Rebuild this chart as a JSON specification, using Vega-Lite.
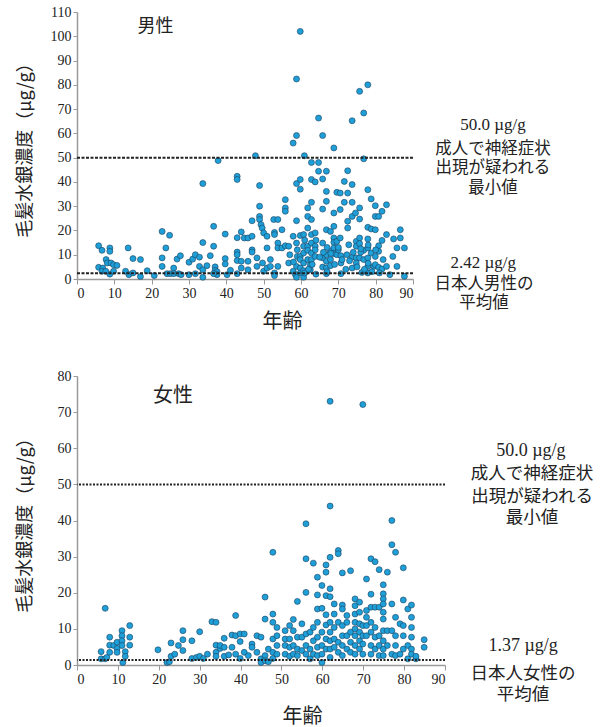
{
  "$schema": "https://vega.github.io/schema/vega-lite/v6.json",
  "padding": {"left": 15, "top": 5, "right": 5, "bottom": 5},
  "background": "white",
  "spacing": 38,
  "config": {
    "font": "Noto Sans CJK JP",
    "view": {"stroke": null},
    "text": {"color": "#222", "align": "center", "baseline": "middle"},
    "axis": {
      "grid": false,
      "labelFont": "Liberation Serif",
      "labelFontSize": 14,
      "labelColor": "#222",
      "labelOverlap": false,
      "titleFont": "Noto Sans CJK JP",
      "titleFontWeight": "normal",
      "titleColor": "#222",
      "domainColor": "#9a9a9a",
      "domainWidth": 1.5,
      "tickColor": "#9a9a9a",
      "tickSize": 5
    }
  },
  "datasets": {
    "one": [{}],
    "male": [
      {"age":5.8,"hg":13.7},{"age":6.7,"hg":11.8},{"age":5.8,"hg":4.8},{"age":6.9,"hg":4.5},{"age":6.7,"hg":3.2},{"age":7.8,"hg":8.0},{"age":8.8,"hg":12.8},{"age":8.8,"hg":11.4},{"age":8.1,"hg":6.6},{"age":9.1,"hg":6.6},{"age":9.8,"hg":5.9},{"age":10.7,"hg":5.6},{"age":8.8,"hg":2.0},{"age":7.7,"hg":3.2},{"age":9.8,"hg":3.2},{"age":13.0,"hg":3.2},{"age":13.7,"hg":12.8},{"age":15.0,"hg":8.4},{"age":13.9,"hg":1.8},{"age":15.0,"hg":2.5},{"age":17.0,"hg":8.0},{"age":17.0,"hg":1.0},{"age":18.8,"hg":3.4},{"age":20.7,"hg":1.4},{"age":22.8,"hg":19.6},{"age":22.8,"hg":8.7},{"age":22.8,"hg":5.2},{"age":23.8,"hg":12.8},{"age":24.8,"hg":18.0},{"age":24.1,"hg":2.2},{"age":25.0,"hg":2.2},{"age":25.9,"hg":4.5},{"age":25.9,"hg":2.2},{"age":26.8,"hg":8.2},{"age":27.7,"hg":9.6},{"age":27.2,"hg":2.2},{"age":27.9,"hg":1.8},{"age":30.0,"hg":1.8},{"age":30.0,"hg":6.9},{"age":31.0,"hg":8.2},{"age":31.7,"hg":10.0},{"age":31.7,"hg":2.2},{"age":32.8,"hg":9.0},{"age":32.8,"hg":5.2},{"age":33.7,"hg":3.8},{"age":33.7,"hg":39.3},{"age":33.7,"hg":15.0},{"age":33.7,"hg":0.7},{"age":35.7,"hg":9.6},{"age":34.8,"hg":5.5},{"age":36.6,"hg":21.7},{"age":36.6,"hg":13.5},{"age":37.0,"hg":5.0},{"age":37.0,"hg":3.6},{"age":37.5,"hg":3.0},{"age":37.5,"hg":1.8},{"age":36.6,"hg":2.2},{"age":37.8,"hg":48.8},{"age":39.7,"hg":18.5},{"age":39.7,"hg":8.4},{"age":39.7,"hg":6.2},{"age":40.2,"hg":1.8},{"age":41.1,"hg":3.6},{"age":42.9,"hg":42.3},{"age":42.9,"hg":41.0},{"age":42.9,"hg":17.0},{"age":42.9,"hg":11.1},{"age":42.9,"hg":10.0},{"age":42.9,"hg":7.6},{"age":42.9,"hg":2.2},{"age":44.0,"hg":19.4},{"age":44.0,"hg":7.3},{"age":44.0,"hg":4.5},{"age":44.8,"hg":16.9},{"age":45.8,"hg":16.9},{"age":45.8,"hg":7.3},{"age":45.8,"hg":3.8},{"age":46.9,"hg":17.6},{"age":46.9,"hg":24.0},{"age":46.9,"hg":12.0},{"age":46.9,"hg":11.1},{"age":47.8,"hg":50.8},{"age":48.2,"hg":8.7},{"age":48.2,"hg":5.2},{"age":48.9,"hg":38.5},{"age":48.9,"hg":30.0},{"age":48.9,"hg":25.8},{"age":48.9,"hg":24.5},{"age":49.3,"hg":22.4},{"age":49.6,"hg":21.0},{"age":50.0,"hg":19.0},{"age":49.7,"hg":6.6},{"age":50.0,"hg":3.2},{"age":50.9,"hg":17.6},{"age":50.9,"hg":12.8},{"age":50.9,"hg":4.5},{"age":51.8,"hg":8.0},{"age":51.8,"hg":5.2},{"age":52.7,"hg":24.5},{"age":52.9,"hg":19.2},{"age":52.9,"hg":18.3},{"age":52.9,"hg":2.5},{"age":52.9,"hg":1.4},{"age":53.8,"hg":24.5},{"age":53.8,"hg":14.8},{"age":53.8,"hg":12.8},{"age":53.8,"hg":5.2},{"age":54.9,"hg":12.8},{"age":54.9,"hg":20.3},{"age":55.8,"hg":32.7},{"age":55.8,"hg":29.3},{"age":55.8,"hg":27.9},{"age":55.8,"hg":13.7},{"age":56.7,"hg":6.6},{"age":56.7,"hg":13.5},{"age":57.9,"hg":56.0},{"age":57.9,"hg":17.6},{"age":57.9,"hg":3.2},{"age":58.5,"hg":1.8},{"age":58.8,"hg":39.3},{"age":58.8,"hg":59.1},{"age":58.8,"hg":82.4},{"age":58.8,"hg":24.0},{"age":58.8,"hg":14.8},{"age":59.0,"hg":9.3},{"age":58.8,"hg":5.2},{"age":58.8,"hg":0.7},{"age":59.8,"hg":102.0},{"age":59.8,"hg":41.0},{"age":59.8,"hg":37.0},{"age":59.8,"hg":17.9},{"age":59.8,"hg":9.3},{"age":59.8,"hg":8.0},{"age":59.8,"hg":4.5},{"age":59.8,"hg":2.5},{"age":60.7,"hg":18.3},{"age":60.7,"hg":13.5},{"age":60.7,"hg":10.7},{"age":60.7,"hg":6.6},{"age":60.7,"hg":3.4},{"age":60.7,"hg":0.7},{"age":60.9,"hg":50.8},{"age":61.8,"hg":29.3},{"age":61.8,"hg":25.8},{"age":61.8,"hg":21.0},{"age":61.8,"hg":13.5},{"age":61.8,"hg":11.8},{"age":61.8,"hg":8.0},{"age":62.5,"hg":5.9},{"age":62.5,"hg":3.8},{"age":62.8,"hg":41.0},{"age":62.8,"hg":48.0},{"age":62.8,"hg":31.6},{"age":62.8,"hg":24.5},{"age":62.8,"hg":18.3},{"age":62.8,"hg":14.8},{"age":62.8,"hg":10.7},{"age":62.8,"hg":8.0},{"age":63.8,"hg":40.0},{"age":63.8,"hg":19.0},{"age":63.8,"hg":13.5},{"age":63.8,"hg":12.0},{"age":63.8,"hg":9.3},{"age":64.7,"hg":48.0},{"age":64.7,"hg":44.4},{"age":64.7,"hg":66.3},{"age":65.8,"hg":59.1},{"age":65.8,"hg":41.2},{"age":65.8,"hg":28.8},{"age":65.8,"hg":14.8},{"age":65.8,"hg":8.7},{"age":65.8,"hg":4.9},{"age":66.8,"hg":44.4},{"age":66.8,"hg":36.1},{"age":66.8,"hg":32.0},{"age":66.8,"hg":20.3},{"age":66.8,"hg":10.0},{"age":66.8,"hg":7.3},{"age":66.8,"hg":4.5},{"age":66.8,"hg":2.2},{"age":67.9,"hg":19.6},{"age":67.9,"hg":11.4},{"age":67.9,"hg":8.0},{"age":67.9,"hg":5.5},{"age":68.8,"hg":54.0},{"age":68.8,"hg":27.2},{"age":68.8,"hg":21.7},{"age":68.8,"hg":16.9},{"age":68.8,"hg":15.1},{"age":68.8,"hg":12.8},{"age":68.8,"hg":10.4},{"age":69.6,"hg":35.7},{"age":69.6,"hg":15.5},{"age":69.6,"hg":10.0},{"age":70.5,"hg":35.4},{"age":70.5,"hg":28.6},{"age":70.5,"hg":16.9},{"age":70.7,"hg":9.6},{"age":70.7,"hg":6.6},{"age":70.7,"hg":2.2},{"age":71.6,"hg":40.2},{"age":71.6,"hg":31.6},{"age":72.3,"hg":10.0},{"age":72.5,"hg":44.6},{"age":72.5,"hg":35.4},{"age":72.5,"hg":23.8},{"age":72.5,"hg":21.0},{"age":72.8,"hg":14.1},{"age":73.7,"hg":65.2},{"age":73.7,"hg":38.9},{"age":73.7,"hg":31.6},{"age":73.7,"hg":25.8},{"age":73.7,"hg":9.0},{"age":73.7,"hg":4.5},{"age":74.6,"hg":27.2},{"age":74.8,"hg":15.5},{"age":74.8,"hg":13.5},{"age":74.8,"hg":8.7},{"age":74.8,"hg":6.6},{"age":75.7,"hg":77.3},{"age":75.7,"hg":29.3},{"age":75.7,"hg":24.7},{"age":75.7,"hg":16.9},{"age":75.7,"hg":14.6},{"age":75.7,"hg":8.7},{"age":76.3,"hg":2.7},{"age":76.8,"hg":68.4},{"age":76.8,"hg":49.5},{"age":76.8,"hg":11.8},{"age":76.8,"hg":8.0},{"age":77.9,"hg":80.0},{"age":77.9,"hg":36.8},{"age":77.9,"hg":21.3},{"age":77.9,"hg":16.5},{"age":77.9,"hg":12.8},{"age":77.9,"hg":8.7},{"age":77.9,"hg":5.2},{"age":77.9,"hg":2.5},{"age":78.8,"hg":33.0},{"age":78.8,"hg":20.6},{"age":78.8,"hg":10.7},{"age":79.5,"hg":5.2},{"age":79.9,"hg":30.2},{"age":79.9,"hg":25.8},{"age":79.9,"hg":20.3},{"age":79.9,"hg":9.3},{"age":79.9,"hg":5.9},{"age":80.8,"hg":25.8},{"age":80.8,"hg":13.7},{"age":80.8,"hg":11.4},{"age":80.8,"hg":4.8},{"age":81.7,"hg":27.9},{"age":81.7,"hg":15.9},{"age":81.7,"hg":4.1},{"age":82.9,"hg":30.6},{"age":82.9,"hg":18.3},{"age":82.9,"hg":5.2},{"age":83.8,"hg":1.8},{"age":84.6,"hg":9.3},{"age":84.8,"hg":16.5},{"age":85.7,"hg":12.8},{"age":85.7,"hg":5.2},{"age":86.6,"hg":20.3},{"age":86.6,"hg":16.9},{"age":87.7,"hg":12.8},{"age":87.7,"hg":1.1},
      {"age":57,"hg":10},{"age":58,"hg":7},{"age":61,"hg":2.5},{"age":62,"hg":4},{"age":63,"hg":6},{"age":64,"hg":2},{"age":65,"hg":9},{"age":66,"hg":11},{"age":67,"hg":3},{"age":68,"hg":10.5},{"age":69,"hg":6},{"age":70,"hg":12},{"age":71,"hg":8},{"age":72,"hg":4},{"age":73,"hg":7.5},{"age":74,"hg":11},{"age":75,"hg":5},{"age":76,"hg":11},{"age":77,"hg":4},{"age":78,"hg":6.5},{"age":79,"hg":3},{"age":80,"hg":12},{"age":81,"hg":2.5},{"age":82,"hg":8},{"age":64,"hg":16},{"age":67,"hg":13},{"age":70,"hg":13},{"age":76,"hg":12.5},{"age":78,"hg":14},{"age":61,"hg":16},{"age":59,"hg":12}
    ],
    "female": [
      {"age":5.9,"hg":3.7},{"age":5.9,"hg":1.7},{"age":6.9,"hg":15.7},{"age":6.9,"hg":1.7},{"age":7.3,"hg":2.1},{"age":8.0,"hg":7.7},{"age":8.0,"hg":5.5},{"age":8.0,"hg":3.5},{"age":9.0,"hg":5.4},{"age":9.8,"hg":6.3},{"age":9.8,"hg":4.6},{"age":9.8,"hg":3.5},{"age":11.0,"hg":9.5},{"age":11.0,"hg":8.1},{"age":11.0,"hg":6.7},{"age":11.0,"hg":5.4},{"age":11.2,"hg":0.7},{"age":11.8,"hg":3.7},{"age":11.8,"hg":2.4},{"age":12.9,"hg":10.9},{"age":12.9,"hg":7.7},{"age":12.9,"hg":5.5},
      {"age":19.8,"hg":4.2},{"age":22.0,"hg":0.7},{"age":22.6,"hg":0.9},{"age":23.0,"hg":6.1},{"age":23.0,"hg":2.4},{"age":23.9,"hg":3.0},{"age":24.8,"hg":5.4},{"age":25.9,"hg":9.5},{"age":25.9,"hg":7.0},{"age":25.9,"hg":4.0},{"age":28.1,"hg":6.7},{"age":28.1,"hg":1.8},{"age":29.2,"hg":2.1},{"age":30.0,"hg":9.2},{"age":30.0,"hg":2.4},{"age":30.9,"hg":1.8},{"age":31.9,"hg":3.0},{"age":33.0,"hg":12.0},{"age":34.0,"hg":11.8},{"age":34.0,"hg":5.5},{"age":34.0,"hg":3.5},{"age":34.0,"hg":2.4},{"age":35.0,"hg":4.6},{"age":35.0,"hg":5.4},{"age":36.0,"hg":7.4},{"age":36.0,"hg":4.9},{"age":36.0,"hg":2.4},{"age":37.1,"hg":2.8},{"age":37.9,"hg":8.3},{"age":37.9,"hg":4.9},{"age":38.8,"hg":13.7},{"age":38.8,"hg":8.1},{"age":38.8,"hg":3.0},{"age":39.9,"hg":8.6},{"age":39.9,"hg":6.5},{"age":39.9,"hg":1.8},{"age":40.9,"hg":8.6},{"age":40.9,"hg":3.5},{"age":41.9,"hg":2.6},{"age":42.8,"hg":5.8},{"age":42.8,"hg":4.9},{"age":44.0,"hg":8.1},{"age":44.0,"hg":3.5},{"age":45.0,"hg":7.7},{"age":45.0,"hg":1.7},{"age":45.0,"hg":0.7},{"age":46.0,"hg":18.8},{"age":46.0,"hg":12.7},{"age":46.0,"hg":2.6},{"age":46.0,"hg":1.2},{"age":46.8,"hg":4.4},{"age":46.8,"hg":0.9},{"age":47.9,"hg":31.2},{"age":47.9,"hg":14.1},{"age":47.9,"hg":11.8},{"age":47.9,"hg":7.2},{"age":47.9,"hg":3.5},{"age":47.9,"hg":1.8},{"age":48.9,"hg":10.4},{"age":48.9,"hg":8.1},{"age":48.9,"hg":5.4},{"age":48.9,"hg":3.0},{"age":50.9,"hg":9.5},{"age":50.9,"hg":7.2},{"age":50.9,"hg":5.4},{"age":50.9,"hg":3.0},{"age":52.0,"hg":10.9},{"age":52.0,"hg":7.2},{"age":52.0,"hg":4.9},{"age":52.0,"hg":2.4},{"age":52.9,"hg":12.6},{"age":52.9,"hg":9.5},{"age":52.9,"hg":5.4},{"age":52.9,"hg":3.0},{"age":53.9,"hg":17.6},{"age":53.9,"hg":7.7},{"age":53.9,"hg":4.4},{"age":53.9,"hg":2.6},{"age":55.0,"hg":11.4},{"age":55.0,"hg":7.7},{"age":55.0,"hg":4.0},{"age":56.0,"hg":39.1},{"age":56.0,"hg":29.4},{"age":56.0,"hg":20.1},{"age":56.0,"hg":8.6},{"age":56.0,"hg":5.4},{"age":56.0,"hg":3.0},{"age":57.0,"hg":9.1},{"age":57.0,"hg":4.4},{"age":57.0,"hg":1.7},{"age":57.8,"hg":28.2},{"age":57.8,"hg":10.4},{"age":57.8,"hg":6.7},{"age":57.8,"hg":3.0},{"age":58.8,"hg":24.3},{"age":58.8,"hg":19.4},{"age":58.8,"hg":15.5},{"age":58.8,"hg":11.8},{"age":58.8,"hg":7.7},{"age":58.8,"hg":4.9},{"age":58.8,"hg":2.6},{"age":59.9,"hg":22.0},{"age":59.9,"hg":15.7},{"age":59.9,"hg":9.1},{"age":59.9,"hg":0.7},{"age":59.9,"hg":5.4},{"age":59.9,"hg":3.0},{"age":60.9,"hg":27.7},{"age":60.9,"hg":25.7},{"age":60.9,"hg":19.2},{"age":60.9,"hg":13.9},{"age":60.9,"hg":11.1},{"age":60.9,"hg":7.2},{"age":60.9,"hg":4.4},{"age":61.9,"hg":73.0},{"age":61.9,"hg":44.0},{"age":61.9,"hg":29.8},{"age":61.9,"hg":21.1},{"age":61.9,"hg":18.9},{"age":61.9,"hg":11.8},{"age":61.9,"hg":9.1},{"age":61.9,"hg":6.7},{"age":61.9,"hg":4.4},{"age":61.9,"hg":2.1},{"age":62.9,"hg":16.9},{"age":62.9,"hg":14.1},{"age":62.9,"hg":10.4},{"age":62.9,"hg":7.2},{"age":62.9,"hg":4.9},{"age":63.9,"hg":31.7},{"age":63.9,"hg":30.8},{"age":63.9,"hg":11.8},{"age":63.9,"hg":6.3},{"age":63.9,"hg":3.5},{"age":64.9,"hg":25.5},{"age":64.9,"hg":16.6},{"age":64.9,"hg":15.5},{"age":64.9,"hg":10.9},{"age":64.9,"hg":8.1},{"age":64.9,"hg":5.4},{"age":64.9,"hg":2.6},{"age":66.0,"hg":13.7},{"age":66.0,"hg":11.8},{"age":66.0,"hg":8.1},{"age":66.0,"hg":4.4},{"age":66.9,"hg":26.1},{"age":66.9,"hg":9.1},{"age":66.9,"hg":6.3},{"age":66.9,"hg":3.5},{"age":68.0,"hg":18.3},{"age":68.0,"hg":16.4},{"age":68.0,"hg":14.1},{"age":68.0,"hg":11.8},{"age":68.0,"hg":10.0},{"age":68.0,"hg":8.1},{"age":68.0,"hg":5.4},{"age":68.0,"hg":3.0},{"age":69.1,"hg":17.4},{"age":69.1,"hg":14.6},{"age":69.1,"hg":11.4},{"age":69.1,"hg":9.1},{"age":69.1,"hg":6.7},{"age":69.1,"hg":4.4},{"age":69.9,"hg":72.1},{"age":69.9,"hg":10.9},{"age":69.9,"hg":8.1},{"age":69.9,"hg":5.8},{"age":69.9,"hg":3.0},{"age":70.8,"hg":23.8},{"age":70.8,"hg":15.1},{"age":70.8,"hg":13.2},{"age":70.8,"hg":10.9},{"age":70.8,"hg":8.1},{"age":71.9,"hg":29.4},{"age":71.9,"hg":19.6},{"age":71.9,"hg":16.0},{"age":71.9,"hg":11.8},{"age":71.9,"hg":9.1},{"age":71.9,"hg":5.4},{"age":71.9,"hg":3.0},{"age":72.9,"hg":28.6},{"age":72.9,"hg":16.0},{"age":72.9,"hg":10.4},{"age":72.9,"hg":7.7},{"age":72.9,"hg":4.4},{"age":73.9,"hg":26.4},{"age":73.9,"hg":16.0},{"age":73.9,"hg":8.1},{"age":73.9,"hg":5.4},{"age":73.9,"hg":2.6},{"age":74.9,"hg":22.2},{"age":74.9,"hg":19.7},{"age":74.9,"hg":18.3},{"age":74.9,"hg":16.9},{"age":74.9,"hg":14.6},{"age":74.9,"hg":12.7},{"age":74.9,"hg":9.5},{"age":74.9,"hg":6.7},{"age":74.9,"hg":4.4},{"age":74.9,"hg":2.6},{"age":75.9,"hg":25.7},{"age":75.9,"hg":9.5},{"age":75.9,"hg":5.4},{"age":77.0,"hg":40.0},{"age":77.0,"hg":33.3},{"age":77.0,"hg":16.9},{"age":77.0,"hg":9.5},{"age":77.0,"hg":3.0},{"age":77.9,"hg":31.2},{"age":77.9,"hg":13.2},{"age":77.9,"hg":8.1},{"age":77.9,"hg":5.4},{"age":77.9,"hg":2.6},{"age":79.0,"hg":11.4},{"age":79.0,"hg":3.0},{"age":79.8,"hg":26.9},{"age":79.8,"hg":18.0},{"age":79.8,"hg":10.9},{"age":79.8,"hg":8.1},{"age":79.8,"hg":4.4},{"age":80.9,"hg":15.5},{"age":80.9,"hg":5.4},{"age":80.9,"hg":1.7},{"age":81.8,"hg":16.6},{"age":81.8,"hg":13.2},{"age":81.8,"hg":10.4},{"age":81.8,"hg":7.7},{"age":81.8,"hg":4.4},{"age":81.8,"hg":3.0},{"age":82.9,"hg":1.7},{"age":82.9,"hg":2.4},{"age":84.9,"hg":7.0},{"age":84.9,"hg":4.9}
    ]
  },
  "vconcat": [
    {
      "width": 336,
      "height": 267,
      "layer": [
        {
          "data": {"name": "male"},
          "mark": {"type": "point", "filled": true, "fill": "#1f9fd8", "stroke": "#1b3f5c", "strokeWidth": 0.6, "opacity": 1, "size": 36},
          "encoding": {
            "x": {"field": "age", "type": "quantitative", "scale": {"domain": [0, 90], "nice": false},
                  "axis": {"values": [0,10,20,30,40,50,60,70,80,90], "labelOverlap": false, "title": "年齢", "titleFontSize": 20, "titleX": 205, "titlePadding": 11}},
            "y": {"field": "hg", "type": "quantitative", "scale": {"domain": [0, 110], "nice": false},
                  "axis": {"values": [0,10,20,30,40,50,60,70,80,90,100,110], "labelOverlap": false, "title": "毛髪水銀濃度（µg/g）", "titleFontSize": 18, "titleX": -43, "tickSize": 4}}
          }
        },
        {"data": {"name": "one"}, "mark": {"type": "rule", "color": "#222", "strokeWidth": 2, "strokeDash": [3, 1.5]},
         "encoding": {"y": {"datum": 50, "type": "quantitative", "axis": {"values": [0,10,20,30,40,50,60,70,80,90,100,110], "labelOverlap": false, "title": "毛髪水銀濃度（µg/g）", "titleFontSize": 18, "titleX": -43, "tickSize": 4}}}},
        {"data": {"name": "one"}, "mark": {"type": "rule", "color": "#222", "strokeWidth": 2, "strokeDash": [3, 1.5]},
         "encoding": {"y": {"datum": 2.42, "type": "quantitative", "axis": {"values": [0,10,20,30,40,50,60,70,80,90,100,110], "labelOverlap": false, "title": "毛髪水銀濃度（µg/g）", "titleFontSize": 18, "titleX": -43, "tickSize": 4}}}},
        {"data": {"name": "one"}, "mark": {"type": "text", "fontSize": 18},
         "encoding": {
           "x": {"datum": 21, "type": "quantitative", "axis": {"values": [0,10,20,30,40,50,60,70,80,90], "labelOverlap": false, "title": "年齢", "titleFontSize": 20, "titleX": 205, "titlePadding": 11}},
           "y": {"datum": 103.8, "type": "quantitative", "axis": {"values": [0,10,20,30,40,50,60,70,80,90,100,110], "labelOverlap": false, "title": "毛髪水銀濃度（µg/g）", "titleFontSize": 18, "titleX": -43, "tickSize": 4}},
           "text": {"value": "男性"}}},
        {"data": {"name": "one"}, "mark": {"type": "text", "font": "Liberation Serif", "fontSize": 17},
         "encoding": {
           "x": {"datum": 111.4, "type": "quantitative", "axis": {"values": [0,10,20,30,40,50,60,70,80,90], "labelOverlap": false, "title": "年齢", "titleFontSize": 20, "titleX": 205, "titlePadding": 11}},
           "y": {"datum": 63.5, "type": "quantitative", "axis": {"values": [0,10,20,30,40,50,60,70,80,90,100,110], "labelOverlap": false, "title": "毛髪水銀濃度（µg/g）", "titleFontSize": 18, "titleX": -43, "tickSize": 4}},
           "text": {"value": "50.0 µg/g"}}},
        {"data": {"name": "one"}, "mark": {"type": "text", "fontSize": 16.5},
         "encoding": {
           "x": {"datum": 111.4, "type": "quantitative", "axis": {"values": [0,10,20,30,40,50,60,70,80,90], "labelOverlap": false, "title": "年齢", "titleFontSize": 20, "titleX": 205, "titlePadding": 11}},
           "y": {"datum": 53.6, "type": "quantitative", "axis": {"values": [0,10,20,30,40,50,60,70,80,90,100,110], "labelOverlap": false, "title": "毛髪水銀濃度（µg/g）", "titleFontSize": 18, "titleX": -43, "tickSize": 4}},
           "text": {"value": "成人で神経症状"}}},
        {"data": {"name": "one"}, "mark": {"type": "text", "fontSize": 16.5},
         "encoding": {
           "x": {"datum": 111.4, "type": "quantitative", "axis": {"values": [0,10,20,30,40,50,60,70,80,90], "labelOverlap": false, "title": "年齢", "titleFontSize": 20, "titleX": 205, "titlePadding": 11}},
           "y": {"datum": 45.6, "type": "quantitative", "axis": {"values": [0,10,20,30,40,50,60,70,80,90,100,110], "labelOverlap": false, "title": "毛髪水銀濃度（µg/g）", "titleFontSize": 18, "titleX": -43, "tickSize": 4}},
           "text": {"value": "出現が疑われる"}}},
        {"data": {"name": "one"}, "mark": {"type": "text", "fontSize": 16.5},
         "encoding": {
           "x": {"datum": 111.4, "type": "quantitative", "axis": {"values": [0,10,20,30,40,50,60,70,80,90], "labelOverlap": false, "title": "年齢", "titleFontSize": 20, "titleX": 205, "titlePadding": 11}},
           "y": {"datum": 37.5, "type": "quantitative", "axis": {"values": [0,10,20,30,40,50,60,70,80,90,100,110], "labelOverlap": false, "title": "毛髪水銀濃度（µg/g）", "titleFontSize": 18, "titleX": -43, "tickSize": 4}},
           "text": {"value": "最小値"}}},
        {"data": {"name": "one"}, "mark": {"type": "text", "font": "Liberation Serif", "fontSize": 17},
         "encoding": {
           "x": {"datum": 108.8, "type": "quantitative", "axis": {"values": [0,10,20,30,40,50,60,70,80,90], "labelOverlap": false, "title": "年齢", "titleFontSize": 20, "titleX": 205, "titlePadding": 11}},
           "y": {"datum": 6.6, "type": "quantitative", "axis": {"values": [0,10,20,30,40,50,60,70,80,90,100,110], "labelOverlap": false, "title": "毛髪水銀濃度（µg/g）", "titleFontSize": 18, "titleX": -43, "tickSize": 4}},
           "text": {"value": "2.42 µg/g"}}},
        {"data": {"name": "one"}, "mark": {"type": "text", "fontSize": 16.5},
         "encoding": {
           "x": {"datum": 109, "type": "quantitative", "axis": {"values": [0,10,20,30,40,50,60,70,80,90], "labelOverlap": false, "title": "年齢", "titleFontSize": 20, "titleX": 205, "titlePadding": 11}},
           "y": {"datum": -2.1, "type": "quantitative", "axis": {"values": [0,10,20,30,40,50,60,70,80,90,100,110], "labelOverlap": false, "title": "毛髪水銀濃度（µg/g）", "titleFontSize": 18, "titleX": -43, "tickSize": 4}},
           "text": {"value": "日本人男性の"}}},
        {"data": {"name": "one"}, "mark": {"type": "text", "fontSize": 16.5},
         "encoding": {
           "x": {"datum": 109, "type": "quantitative", "axis": {"values": [0,10,20,30,40,50,60,70,80,90], "labelOverlap": false, "title": "年齢", "titleFontSize": 20, "titleX": 205, "titlePadding": 11}},
           "y": {"datum": -9.9, "type": "quantitative", "axis": {"values": [0,10,20,30,40,50,60,70,80,90,100,110], "labelOverlap": false, "title": "毛髪水銀濃度（µg/g）", "titleFontSize": 18, "titleX": -43, "tickSize": 4}},
           "text": {"value": "平均値"}}}
      ]
    },
    {
      "width": 368,
      "height": 289,
      "layer": [
        {
          "data": {"name": "female"},
          "mark": {"type": "point", "filled": true, "fill": "#1f9fd8", "stroke": "#1b3f5c", "strokeWidth": 0.6, "opacity": 1, "size": 36},
          "encoding": {
            "x": {"field": "age", "type": "quantitative", "scale": {"domain": [0, 90], "nice": false},
                  "axis": {"values": [0,10,20,30,40,50,60,70,80,90], "labelOverlap": false, "title": "年齢", "titleFontSize": 20, "titleX": 225, "titlePadding": 20}},
            "y": {"field": "hg", "type": "quantitative", "scale": {"domain": [0, 80], "nice": false},
                  "axis": {"values": [0,10,20,30,40,50,60,70,80], "labelOverlap": false, "title": "毛髪水銀濃度（µg/g）", "titleFontSize": 18, "titleX": -43, "tickSize": 4}}
          }
        },
        {"data": {"name": "one"}, "mark": {"type": "rule", "color": "#222", "strokeWidth": 2, "strokeDash": [2, 1.5]},
         "encoding": {"y": {"datum": 50, "type": "quantitative", "axis": {"values": [0,10,20,30,40,50,60,70,80], "labelOverlap": false, "title": "毛髪水銀濃度（µg/g）", "titleFontSize": 18, "titleX": -43, "tickSize": 4}}}},
        {"data": {"name": "one"}, "mark": {"type": "rule", "color": "#222", "strokeWidth": 2, "strokeDash": [2, 1.5]},
         "encoding": {"y": {"datum": 1.37, "type": "quantitative", "axis": {"values": [0,10,20,30,40,50,60,70,80], "labelOverlap": false, "title": "毛髪水銀濃度（µg/g）", "titleFontSize": 18, "titleX": -43, "tickSize": 4}}}},
        {"data": {"name": "one"}, "mark": {"type": "text", "fontSize": 20},
         "encoding": {
           "x": {"datum": 23.5, "type": "quantitative", "axis": {"values": [0,10,20,30,40,50,60,70,80,90], "labelOverlap": false, "title": "年齢", "titleFontSize": 20, "titleX": 225, "titlePadding": 20}},
           "y": {"datum": 74.5, "type": "quantitative", "axis": {"values": [0,10,20,30,40,50,60,70,80], "labelOverlap": false, "title": "毛髪水銀濃度（µg/g）", "titleFontSize": 18, "titleX": -43, "tickSize": 4}},
           "text": {"value": "女性"}}},
        {"data": {"name": "one"}, "mark": {"type": "text", "font": "Liberation Serif", "fontSize": 18},
         "encoding": {
           "x": {"datum": 111.0, "type": "quantitative", "axis": {"values": [0,10,20,30,40,50,60,70,80,90], "labelOverlap": false, "title": "年齢", "titleFontSize": 20, "titleX": 225, "titlePadding": 20}},
           "y": {"datum": 59.2, "type": "quantitative", "axis": {"values": [0,10,20,30,40,50,60,70,80], "labelOverlap": false, "title": "毛髪水銀濃度（µg/g）", "titleFontSize": 18, "titleX": -43, "tickSize": 4}},
           "text": {"value": "50.0 µg/g"}}},
        {"data": {"name": "one"}, "mark": {"type": "text", "fontSize": 17.5},
         "encoding": {
           "x": {"datum": 111.3, "type": "quantitative", "axis": {"values": [0,10,20,30,40,50,60,70,80,90], "labelOverlap": false, "title": "年齢", "titleFontSize": 20, "titleX": 225, "titlePadding": 20}},
           "y": {"datum": 52.9, "type": "quantitative", "axis": {"values": [0,10,20,30,40,50,60,70,80], "labelOverlap": false, "title": "毛髪水銀濃度（µg/g）", "titleFontSize": 18, "titleX": -43, "tickSize": 4}},
           "text": {"value": "成人で神経症状"}}},
        {"data": {"name": "one"}, "mark": {"type": "text", "fontSize": 17.5},
         "encoding": {
           "x": {"datum": 111.3, "type": "quantitative", "axis": {"values": [0,10,20,30,40,50,60,70,80,90], "labelOverlap": false, "title": "年齢", "titleFontSize": 20, "titleX": 225, "titlePadding": 20}},
           "y": {"datum": 46.5, "type": "quantitative", "axis": {"values": [0,10,20,30,40,50,60,70,80], "labelOverlap": false, "title": "毛髪水銀濃度（µg/g）", "titleFontSize": 18, "titleX": -43, "tickSize": 4}},
           "text": {"value": "出現が疑われる"}}},
        {"data": {"name": "one"}, "mark": {"type": "text", "fontSize": 17.5},
         "encoding": {
           "x": {"datum": 111.3, "type": "quantitative", "axis": {"values": [0,10,20,30,40,50,60,70,80,90], "labelOverlap": false, "title": "年齢", "titleFontSize": 20, "titleX": 225, "titlePadding": 20}},
           "y": {"datum": 40.8, "type": "quantitative", "axis": {"values": [0,10,20,30,40,50,60,70,80], "labelOverlap": false, "title": "毛髪水銀濃度（µg/g）", "titleFontSize": 18, "titleX": -43, "tickSize": 4}},
           "text": {"value": "最小値"}}},
        {"data": {"name": "one"}, "mark": {"type": "text", "font": "Liberation Serif", "fontSize": 18},
         "encoding": {
           "x": {"datum": 109.1, "type": "quantitative", "axis": {"values": [0,10,20,30,40,50,60,70,80,90], "labelOverlap": false, "title": "年齢", "titleFontSize": 20, "titleX": 225, "titlePadding": 20}},
           "y": {"datum": 5.3, "type": "quantitative", "axis": {"values": [0,10,20,30,40,50,60,70,80], "labelOverlap": false, "title": "毛髪水銀濃度（µg/g）", "titleFontSize": 18, "titleX": -43, "tickSize": 4}},
           "text": {"value": "1.37 µg/g"}}},
        {"data": {"name": "one"}, "mark": {"type": "text", "fontSize": 17.5},
         "encoding": {
           "x": {"datum": 109.1, "type": "quantitative", "axis": {"values": [0,10,20,30,40,50,60,70,80,90], "labelOverlap": false, "title": "年齢", "titleFontSize": 20, "titleX": 225, "titlePadding": 20}},
           "y": {"datum": -2.5, "type": "quantitative", "axis": {"values": [0,10,20,30,40,50,60,70,80], "labelOverlap": false, "title": "毛髪水銀濃度（µg/g）", "titleFontSize": 18, "titleX": -43, "tickSize": 4}},
           "text": {"value": "日本人女性の"}}},
        {"data": {"name": "one"}, "mark": {"type": "text", "fontSize": 17.5},
         "encoding": {
           "x": {"datum": 109.1, "type": "quantitative", "axis": {"values": [0,10,20,30,40,50,60,70,80,90], "labelOverlap": false, "title": "年齢", "titleFontSize": 20, "titleX": 225, "titlePadding": 20}},
           "y": {"datum": -8.2, "type": "quantitative", "axis": {"values": [0,10,20,30,40,50,60,70,80], "labelOverlap": false, "title": "毛髪水銀濃度（µg/g）", "titleFontSize": 18, "titleX": -43, "tickSize": 4}},
           "text": {"value": "平均値"}}}
      ]
    }
  ]
}
